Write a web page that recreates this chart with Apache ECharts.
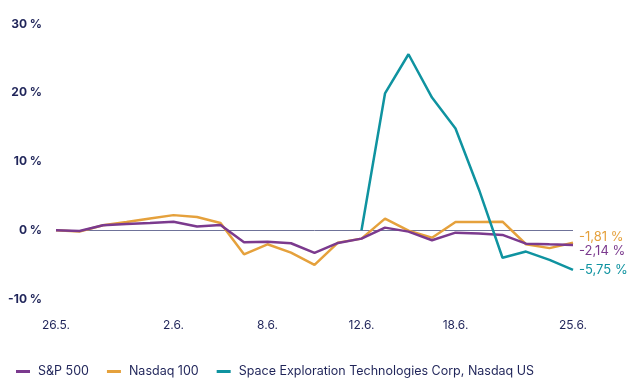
<!DOCTYPE html>
<html>
<head>
<meta charset="utf-8">
<script src="https://cdn.jsdelivr.net/npm/echarts@6/dist/echarts.min.js"></script>
<style>
html,body{margin:0;padding:0;background:#fff;}
#chart{width:629px;height:390px;}
</style>
</head>
<body>
<div id="chart"></div>
<script>
var dates = ["26.5.","27.5.","28.5.","29.5.","1.6.","2.6.","3.6.","4.6.","5.6.","8.6.","9.6.","10.6.","11.6.","12.6.","15.6.","16.6.","17.6.","18.6.","19.6.","22.6.","23.6.","24.6.","25.6."];
var shownTickLabels = ["26.5.","2.6.","8.6.","12.6.","18.6.","25.6."];
var sp500 = [0,-0.1,0.73,0.9,1.05,1.25,0.55,0.77,-1.75,-1.66,-1.89,-3.3,-1.85,-1.22,0.38,-0.2,-1.45,-0.35,-0.47,-0.68,-1.95,-2.05,-2.14];
var nasdaq100 = [0,-0.2,0.73,1.2,1.7,2.2,1.93,1.06,-3.5,-2.04,-3.26,-5.05,-1.8,-1.22,1.69,-0.05,-1.08,1.2,1.2,1.25,-2.04,-2.6,-1.81];
var spacex = [null,null,null,null,null,null,null,null,null,null,null,null,null,0,19.9,25.6,19.3,14.8,5.9,-4.0,-3.1,-4.3,-5.75];
var yTicks = [-10,0,10,20,30];

var navy = '#1f2459';
var cPurple = '#7b3a8e', cOrange = '#e5a13c', cTeal = '#0f93a0';
var ff = 'Inter, Roboto, "DejaVu Sans", sans-serif';

function fmtEnd(p){ return p.value.toFixed(2).replace('.', ',') + ' %'; }

var chart = echarts.init(document.getElementById('chart'));
chart.setOption({
  animation: false,
  textStyle: {fontFamily: ff},
  grid: {left: 56, right: 56, top: 24, bottom: 91, containLabel: false},
  legend: {
    left: 11, top: 360, icon: 'rect', itemWidth: 14, itemHeight: 3, itemGap: 18,
    textStyle: {color: navy, fontSize: 12.5, fontFamily: ff, padding: [0,0,0,3]},
    data: ['S&P 500', 'Nasdaq 100', 'Space Exploration Technologies Corp, Nasdaq US']
  },
  xAxis: {
    type: 'category', data: dates, boundaryGap: false,
    axisLine: {show: false}, axisTick: {show: false}, splitLine: {show: false},
    axisLabel: {
      color: navy, fontSize: 12, margin: 20, fontFamily: ff,
      interval: function(i, v){ return shownTickLabels.indexOf(v) >= 0; }
    }
  },
  yAxis: {
    type: 'value', min: yTicks[0], max: yTicks[yTicks.length-1], interval: 10,
    axisLine: {show: false}, axisTick: {show: false}, splitLine: {show: false},
    axisLabel: {color: navy, fontSize: 12, fontWeight: 'bold', margin: 14, fontFamily: ff,
      formatter: function(v){ return v + ' %'; }}
  },
  series: [
    {
      name: 'S&P 500', type: 'line', data: sp500, z: 4, showSymbol: false, symbol: 'none',
      lineStyle: {color: cPurple, width: 2.5}, itemStyle: {color: cPurple},
      endLabel: {show: true, formatter: fmtEnd, color: cPurple, fontSize: 13, distance: 6, offset: [0, 6], fontFamily: ff}
    },
    {
      name: 'Nasdaq 100', type: 'line', data: nasdaq100, z: 3, showSymbol: false, symbol: 'none',
      lineStyle: {color: cOrange, width: 2.5}, itemStyle: {color: cOrange},
      endLabel: {show: true, formatter: fmtEnd, color: cOrange, fontSize: 13, distance: 6, offset: [0, -6], fontFamily: ff},
      markLine: {silent: true, symbol: 'none', z: 1, label: {show: false},
        lineStyle: {color: '#6f7399', width: 1, type: 'solid'}, data: [{yAxis: 0}]}
    },
    {
      name: 'Space Exploration Technologies Corp, Nasdaq US', type: 'line', data: spacex, z: 5, showSymbol: false, symbol: 'none',
      lineStyle: {color: cTeal, width: 2.5}, itemStyle: {color: cTeal},
      endLabel: {show: true, formatter: fmtEnd, color: cTeal, fontSize: 13, distance: 6, fontFamily: ff}
    }
  ]
});
</script>
</body>
</html>
